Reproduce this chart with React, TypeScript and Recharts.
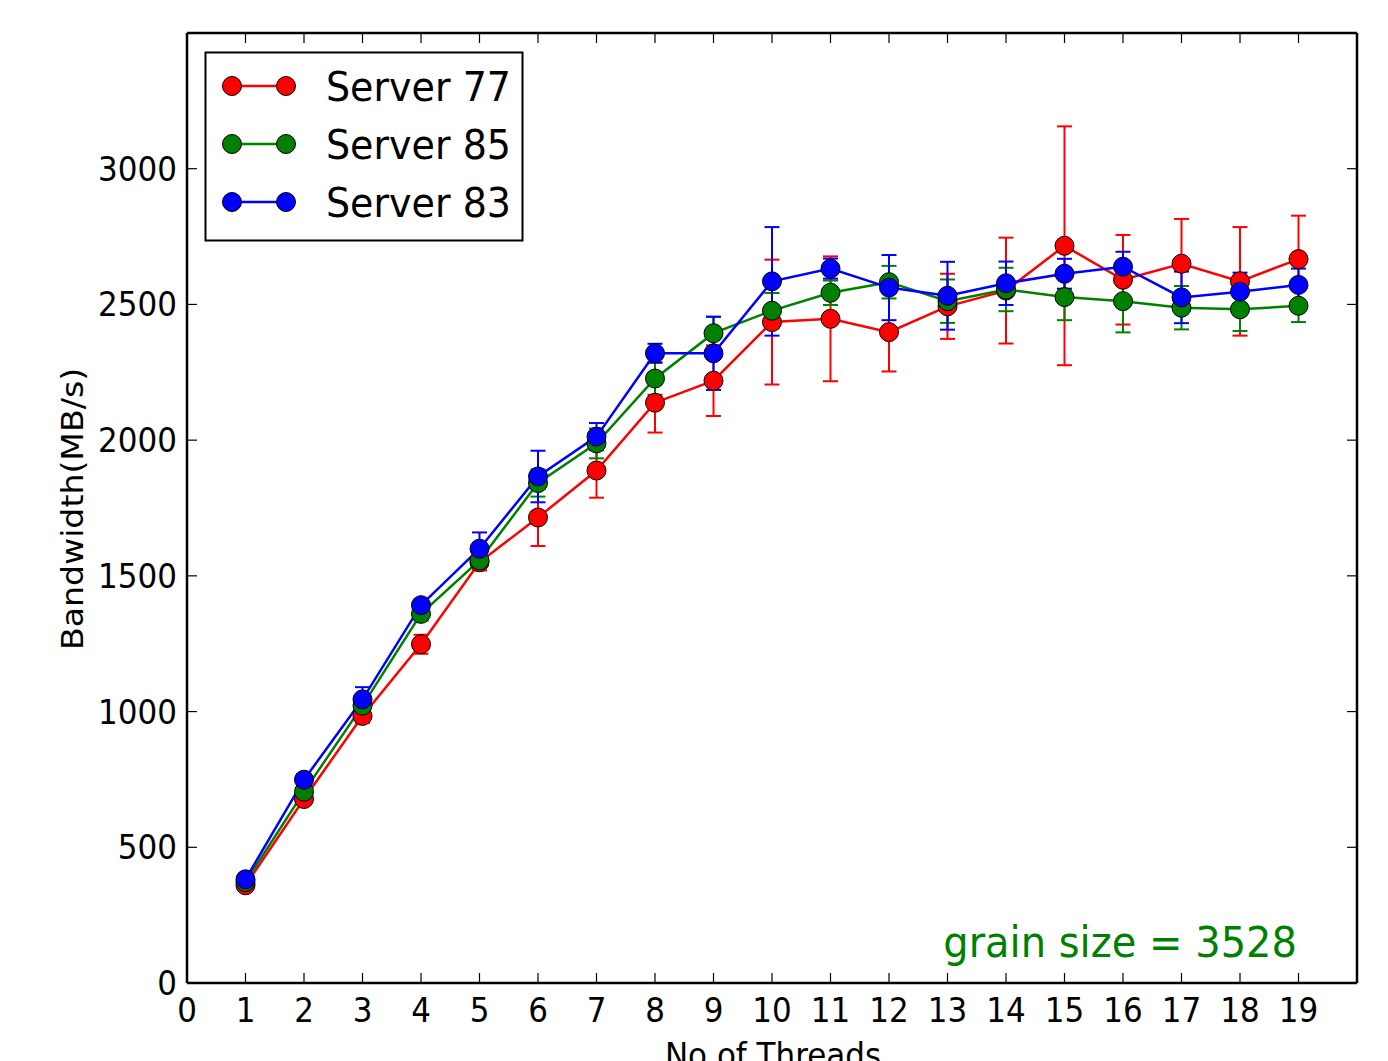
import React from 'react';
import { LineChart, Line, XAxis, YAxis, ErrorBar } from 'recharts';

const threads = [1, 2, 3, 4, 5, 6, 7, 8, 9, 10, 11, 12, 13, 14, 15, 16, 17, 18, 19];

const server77 = [360, 678, 984, 1248, 1550, 1715, 1888, 2138, 2219, 2435, 2447, 2398, 2493, 2551, 2716, 2591, 2650, 2585, 2667];
const err77 = [20, 20, 25, 35, 30, 105, 100, 110, 130, 230, 230, 145, 120, 195, 440, 165, 165, 200, 160];

const server85 = [372, 705, 1022, 1360, 1557, 1842, 1988, 2227, 2394, 2477, 2543, 2582, 2512, 2555, 2527, 2512, 2488, 2482, 2495];
const err85 = [20, 20, 25, 25, 30, 50, 55, 60, 60, 65, 45, 60, 80, 80, 85, 115, 80, 80, 60];

const server83 = [382, 749, 1045, 1392, 1600, 1866, 2013, 2320, 2320, 2585, 2632, 2562, 2532, 2578, 2613, 2639, 2526, 2547, 2572];
const err83 = [20, 20, 45, 20, 60, 95, 50, 35, 135, 200, 37, 120, 125, 80, 55, 55, 95, 70, 60];

const xTicks = [0, 1, 2, 3, 4, 5, 6, 7, 8, 9, 10, 11, 12, 13, 14, 15, 16, 17, 18, 19];
const yTicks = [0, 500, 1000, 1500, 2000, 2500, 3000];

const seriesNames = ['Server 77', 'Server 85', 'Server 83'];
const seriesColors = ['#ff0000', '#008000', '#0000ff'];

const data = threads.map((t, i) => ({
  t,
  s77: server77[i],
  e77: err77[i],
  s85: server85[i],
  e85: err85[i],
  s83: server83[i],
  e83: err83[i],
}));

const FONT = '"DejaVu Sans", sans-serif';
const TICK_LEN = 10;
const SY = 1.07;

const BottomTick = (props: any) => {
  const { x, y, payload } = props;
  return (
    <g>
      <line x1={x} x2={x} y1={y} y2={y - TICK_LEN} stroke="#000" strokeWidth={1.2} />
      <g transform={`translate(${x},${y + 39}) scale(1,${SY})`}>
        <text textAnchor="middle" fontSize={31} fontFamily={FONT} fill="#000">
          {payload.value}
        </text>
      </g>
    </g>
  );
};

const TopTick = (props: any) => {
  const { x, y } = props;
  return <line x1={x} x2={x} y1={y} y2={y + TICK_LEN} stroke="#000" strokeWidth={1.2} />;
};

const LeftTick = (props: any) => {
  const { x, y, payload } = props;
  return (
    <g>
      <line x1={x} x2={x + TICK_LEN} y1={y} y2={y} stroke="#000" strokeWidth={1.2} />
      <g transform={`translate(${x - 10},${y + 12}) scale(1,${SY})`}>
        <text textAnchor="end" fontSize={31} fontFamily={FONT} fill="#000">
          {payload.value}
        </text>
      </g>
    </g>
  );
};

const RightTick = (props: any) => {
  const { x, y } = props;
  return <line x1={x} x2={x - TICK_LEN} y1={y} y2={y} stroke="#000" strokeWidth={1.2} />;
};

const dotStyle = (color: string) => ({ r: 9.5, fill: color, stroke: '#000', strokeWidth: 1 });

export default function App() {
  const legendRows = [86, 144, 202];
  return (
    <div style={{ position: 'absolute', left: 0, top: 0, width: 1388, height: 1061, background: '#fff' }}>
      <LineChart
        width={1388}
        height={1061}
        data={data}
        margin={{ top: 32, right: 30, left: 0, bottom: 0 }}
      >
        <XAxis
          dataKey="t"
          type="number"
          domain={[0, 20]}
          ticks={xTicks}
          interval={0}
          allowDataOverflow
          height={78}
          tickSize={0}
          tickMargin={0}
          tick={BottomTick}
          tickLine={false}
          axisLine={{ stroke: '#000', strokeWidth: 2.5 }}
        />
        <XAxis
          xAxisId="top"
          dataKey="t"
          orientation="top"
          type="number"
          domain={[0, 20]}
          ticks={xTicks}
          interval={0}
          allowDataOverflow
          height={1}
          tickSize={0}
          tickMargin={0}
          tick={TopTick}
          tickLine={false}
          axisLine={{ stroke: '#000', strokeWidth: 2.5 }}
        />
        <YAxis
          type="number"
          domain={[0, 3500]}
          ticks={yTicks}
          interval={0}
          allowDataOverflow
          width={187}
          tickSize={0}
          tickMargin={0}
          tick={LeftTick}
          tickLine={false}
          axisLine={{ stroke: '#000', strokeWidth: 2.5 }}
        />
        <YAxis
          yAxisId="right"
          orientation="right"
          type="number"
          domain={[0, 3500]}
          ticks={yTicks}
          interval={0}
          allowDataOverflow
          width={1}
          tickSize={0}
          tickMargin={0}
          tick={RightTick}
          tickLine={false}
          axisLine={{ stroke: '#000', strokeWidth: 2.5 }}
        />
        <Line
          xAxisId="top"
          yAxisId="right"
          dataKey="s77"
          stroke="none"
          strokeWidth={0}
          dot={false}
          activeDot={false}
          legendType="none"
          isAnimationActive={false}
        />
        <Line
          dataKey="s77"
          stroke={seriesColors[0]}
          strokeWidth={2.5}
          dot={dotStyle(seriesColors[0])}
          activeDot={false}
          isAnimationActive={false}
        >
          <ErrorBar dataKey="e77" width={7.5} stroke={seriesColors[0]} strokeWidth={2} direction="y" />
        </Line>
        <Line
          dataKey="s85"
          stroke={seriesColors[1]}
          strokeWidth={2.5}
          dot={dotStyle(seriesColors[1])}
          activeDot={false}
          isAnimationActive={false}
        >
          <ErrorBar dataKey="e85" width={7.5} stroke={seriesColors[1]} strokeWidth={2} direction="y" />
        </Line>
        <Line
          dataKey="s83"
          stroke={seriesColors[2]}
          strokeWidth={2.5}
          dot={dotStyle(seriesColors[2])}
          activeDot={false}
          isAnimationActive={false}
        >
          <ErrorBar dataKey="e83" width={7.5} stroke={seriesColors[2]} strokeWidth={2} direction="y" />
        </Line>
      </LineChart>
      <svg
        width={1388}
        height={1061}
        style={{ position: 'absolute', left: 0, top: 0, pointerEvents: 'none' }}
      >
        <rect x={205.5} y={52.5} width={317} height={188} fill="#fff" stroke="#000" strokeWidth={2} />
        {seriesNames.map((name, i) => (
          <g key={name}>
            <line x1={232} x2={286} y1={legendRows[i]} y2={legendRows[i]} stroke={seriesColors[i]} strokeWidth={2.5} />
            <circle cx={232} cy={legendRows[i]} r={9.5} fill={seriesColors[i]} stroke="#000" strokeWidth={1} />
            <circle cx={286} cy={legendRows[i]} r={9.5} fill={seriesColors[i]} stroke="#000" strokeWidth={1} />
            <g transform={`translate(326,${legendRows[i] + 14.5}) scale(1,1.08)`}>
              <text fontSize={38} fontFamily={FONT} fill="#000">
                {name}
              </text>
            </g>
          </g>
        ))}
        <g transform={`translate(1297,957) scale(1,1.05)`}>
          <text textAnchor="end" fontSize={40} fontFamily={FONT} fill="#008000">
            grain size = 3528
          </text>
        </g>
        <g transform={`translate(83,509) rotate(-90) scale(1.07,1)`}>
          <text textAnchor="middle" fontSize={31} fontFamily={FONT} fill="#000">
            Bandwidth(MB/s)
          </text>
        </g>
        <g transform={`translate(773,1067) scale(1,1.07)`}>
          <text textAnchor="middle" fontSize={31} fontFamily={FONT} fill="#000">
            No of Threads
          </text>
        </g>
      </svg>
    </div>
  );
}
